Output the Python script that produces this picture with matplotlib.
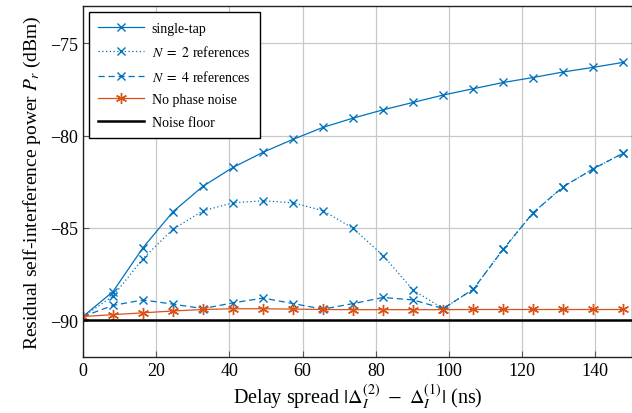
import matplotlib
matplotlib.use("Agg")
import matplotlib.pyplot as plt

delay_ns = [0, 8.2, 16.4, 24.6, 32.8, 41.0, 49.2, 57.4, 65.6, 73.8, 82.0,
            90.2, 98.4, 106.6, 114.8, 123.0, 131.2, 139.4, 147.6]
single_tap = [-89.8, -88.45, -86.07, -84.12, -82.74, -81.72, -80.9, -80.2, -79.55,
              -79.05, -78.6, -78.2, -77.8, -77.46, -77.12, -76.85, -76.55, -76.3, -76.03]
n2_refs = [-89.8, -88.7, -86.66, -85.07, -84.07, -83.64, -83.53, -83.64, -84.07,
           -85.02, -86.5, -88.37, -89.37, -88.33, -86.16, -84.17, -82.77, -81.8, -80.95]
n4_refs = [-89.8, -89.2, -88.9, -89.13, -89.37, -89.06, -88.8, -89.1, -89.4,
           -89.1, -88.77, -88.9, -89.37, -88.33, -86.16, -84.17, -82.77, -81.8, -80.95]
no_phase_noise = [-89.8, -89.7, -89.6, -89.5, -89.42, -89.38, -89.38, -89.4, -89.42,
                  -89.43, -89.43, -89.43, -89.43, -89.42, -89.42, -89.42, -89.42, -89.42, -89.42]
noise_floor = -90.0

plt.rcParams['font.family'] = ['Liberation Serif', 'DejaVu Serif']
plt.rcParams['mathtext.fontset'] = 'stix'

blue = '#0072BD'
orange = '#D95319'

fig = plt.figure(figsize=(6.32, 4.14), dpi=100)
ax = fig.add_axes([0.1313, 0.135, 0.8687, 0.847])

ax.plot(delay_ns, single_tap, color=blue, lw=0.9, marker='x', ms=6, mew=1.0,
        label='single-tap')
ax.plot(delay_ns, n2_refs, color=blue, lw=0.9, ls=(0, (1, 2)), marker='x', ms=6, mew=1.0,
        label=r'$N\ =\ 2$ references')
ax.plot(delay_ns, n4_refs, color=blue, lw=0.9, ls=(0, (5, 3)), marker='x', ms=6, mew=1.0,
        label=r'$N\ =\ 4$ references')
ax.plot(delay_ns, no_phase_noise, color=orange, lw=0.9, marker=(6, 2, 0), ms=8, mew=1.0,
        label='No phase noise')
ax.axhline(noise_floor, color='black', lw=1.8, label='Noise floor')

ax.set_xlim(0, 150)
ax.set_ylim(-92, -73)
ax.set_xticks([0, 20, 40, 60, 80, 100, 120, 140])
ax.set_yticks([-90, -85, -80, -75])
ax.grid(True, color='#c8c8c8', lw=0.9)
ax.set_axisbelow(True)
ax.tick_params(direction='in', labelsize=13, length=4, color='#555555')
for s in ax.spines.values():
    s.set_linewidth(1.0)
    s.set_color('#222222')

ax.set_xlabel(r'Delay spread $|\Delta_I^{(2)}\ -\ \Delta_I^{(1)}|$ (ns)', fontsize=14.5, labelpad=2)
ax.set_ylabel(r'Residual self-interference power $P_r$ (dBm)', fontsize=14, labelpad=5)

leg = ax.legend(loc='upper left', fontsize=10, frameon=True, fancybox=False,
                edgecolor='black', framealpha=1, borderaxespad=0.4,
                handlelength=3.3, handletextpad=0.55, labelspacing=0.68, borderpad=0.7)
leg.get_frame().set_linewidth(1.0)

fig.savefig('out.png', dpi=100)
